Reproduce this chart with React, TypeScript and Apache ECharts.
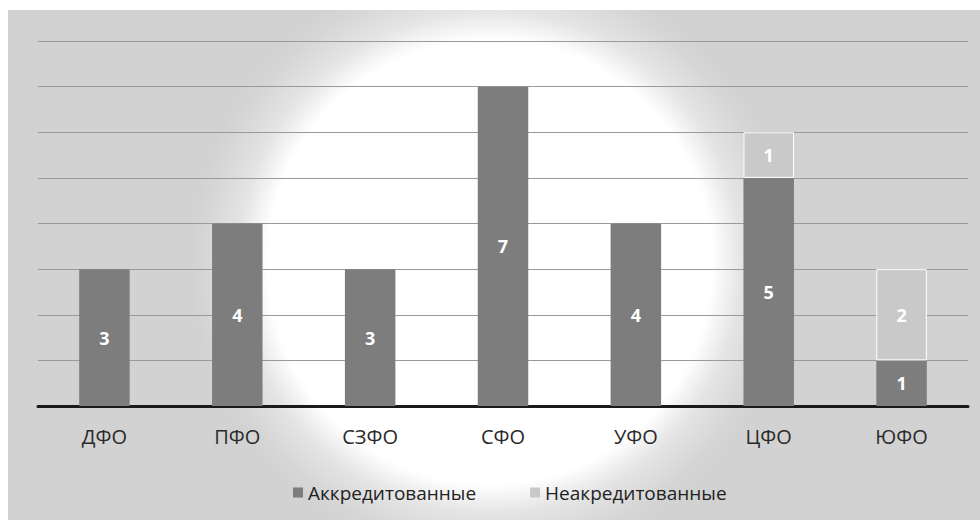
import React, { useEffect, useRef } from "react";
import * as echarts from "echarts";

const categories = ["ДФО", "ПФО", "СЗФО", "СФО", "УФО", "ЦФО", "ЮФО"];
const accredited = [3, 4, 3, 7, 4, 5, 1];
const nonAccredited = [0, 0, 0, 0, 0, 1, 2];
const seriesNames = ["Аккредитованные", "Неакредитованные"];
const yMax = 8;

const FONT = "'Open Sans', 'Noto Sans', sans-serif";

export default function App() {
  const ref = useRef<HTMLDivElement>(null);
  useEffect(() => {
    if (!ref.current) return;
    const chart = echarts.init(ref.current, undefined, { renderer: "svg" });
    const label = {
      show: true,
      position: "inside",
      color: "#ffffff",
      fontWeight: "bold",
      fontSize: 18,
      fontFamily: FONT,
      formatter: (p: any) => (p.value ? String(p.value) : ""),
    };
    const hideZero = (arr: number[]) => arr.map((v) => (v === 0 ? "-" : v));
    chart.setOption({
      animation: false,
      backgroundColor: "#ffffff",
      graphic: [
        {
          type: "rect",
          z: -100,
          silent: true,
          shape: { x: 8, y: 10, width: 972, height: 510 },
          style: {
            fill: new echarts.graphic.RadialGradient(
              490,
              262,
              300,
              [
                { offset: 0, color: "#ffffff" },
                { offset: 0.74, color: "#ffffff" },
                { offset: 0.84, color: "#e4e4e4" },
                { offset: 0.95, color: "#d6d6d6" },
                { offset: 1, color: "#d2d2d2" },
              ],
              true
            ),
          },
        },
      ],
      grid: { left: 38, right: 12, top: 41, bottom: 114, containLabel: false },
      legend: {
        data: seriesNames,
        left: 288,
        top: 478,
        icon: "rect",
        itemWidth: 10,
        itemHeight: 10,
        itemGap: 54,
        itemStyle: { borderWidth: 0 },
        textStyle: { color: "#222", fontSize: 19, fontFamily: FONT },
      },
      xAxis: {
        type: "category",
        data: categories,
        axisLine: { lineStyle: { color: "#1a1a1a", width: 3 } },
        axisTick: { show: false },
        axisLabel: { color: "#2a2a2a", fontSize: 20, fontFamily: FONT, margin: 20 },
      },
      yAxis: {
        type: "value",
        min: 0,
        max: yMax,
        interval: 1,
        axisLabel: { show: false },
        axisLine: { show: false },
        axisTick: { show: false },
        splitLine: { lineStyle: { color: "#9a9a9a", width: 1 } },
      },
      series: [
        {
          name: seriesNames[0],
          type: "bar",
          stack: "total",
          barWidth: "38%",
          data: hideZero(accredited),
          itemStyle: { color: "#7d7d7d", borderWidth: 0 },
          label,
        },
        {
          name: seriesNames[1],
          type: "bar",
          stack: "total",
          barWidth: "38%",
          data: hideZero(nonAccredited),
          itemStyle: { color: "#c9c9c9", borderColor: "#ffffff", borderWidth: 1 },
          label,
        },
      ],
    });
    return () => chart.dispose();
  }, []);
  return (
    <div
      ref={ref}
      style={{ position: "absolute", left: 0, top: 0, width: 980, height: 520 }}
    />
  );
}
